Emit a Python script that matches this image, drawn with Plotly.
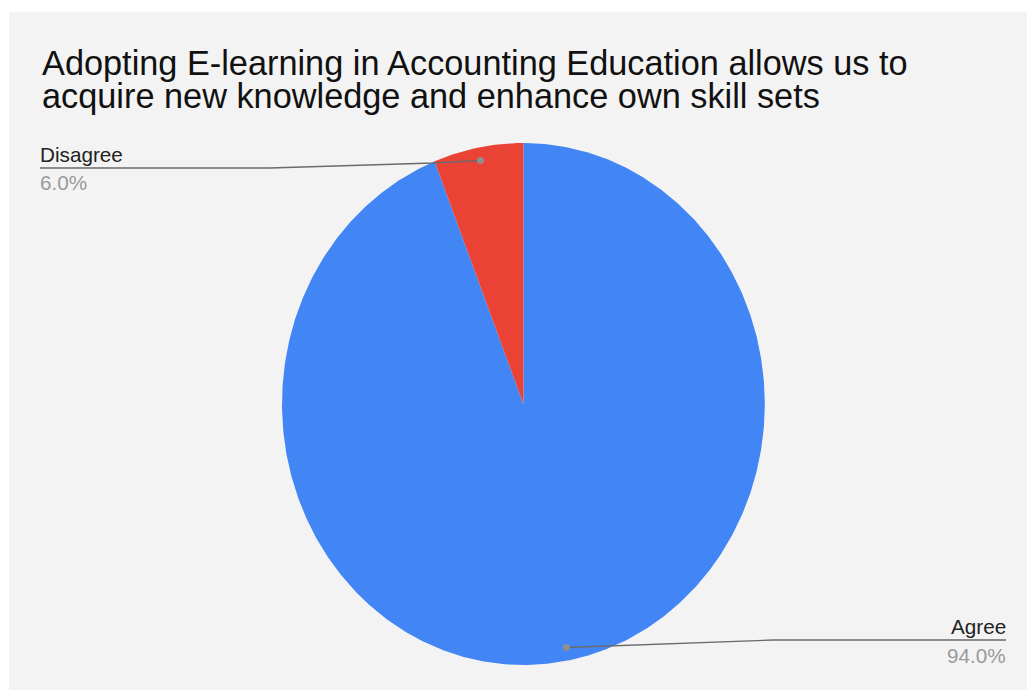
import numpy as np
import plotly.graph_objects as go

# Survey responses
labels = ["Agree", "Disagree"]
values = [94.0, 6.0]
colors = ["#4285f4", "#ea4335"]
title_lines = [
    "Adopting E-learning in Accounting Education allows us to",
    "acquire new knowledge and enhance own skill sets",
]

# Canvas geometry (pixels)
W, H = 1029, 691
CX, CY = 523.4, 404.0      # pie centre
RX, RY = 241.4, 261.0      # pie radii
FONT = "Liberation Sans, Arial, sans-serif"


def to_x(px):
    return (px - CX) / RX


def to_y(py):
    return (CY - py) / RY


def paper_x(px):
    return px / W


def paper_y(py):
    return 1 - py / H


fig = go.Figure()

# Slices drawn clockwise from 12 o'clock
total = sum(values)
fractions = np.array(values) / total
starts = np.concatenate([[0.0], np.cumsum(fractions)[:-1]])
mids = []
for lab, frac, start, col in zip(labels, fractions, starts, colors):
    n = max(int(frac * 720), 8)
    theta = 2 * np.pi * np.linspace(start, start + frac, n)
    xs = np.concatenate([[0.0], np.sin(theta), [0.0]])
    ys = np.concatenate([[0.0], np.cos(theta), [0.0]])
    fig.add_trace(go.Scatter(
        x=xs, y=ys, mode="lines", fill="toself", fillcolor=col,
        line=dict(width=0, color=col), name=lab, hoverinfo="text",
        text=f"{lab}: {frac * 100:.1f}%", showlegend=False,
    ))
    mids.append(2 * np.pi * (start + frac / 2))

# Leader lines: from a dot inside the slice to the label underline
leader_paths = {
    "Disagree": [(433, 163), (270, 168), (40, 168)],
    "Agree": [(773, 640), (1006, 640)],
}
for lab, mid in zip(labels, mids):
    dx, dy = 0.95 * np.sin(mid), 0.95 * np.cos(mid)
    pts = leader_paths[lab]
    fig.add_trace(go.Scatter(
        x=[dx] + [to_x(p[0]) for p in pts],
        y=[dy] + [to_y(p[1]) for p in pts],
        mode="lines", line=dict(color="#6a6a6a", width=1.4),
        hoverinfo="skip", showlegend=False, cliponaxis=False,
    ))
    fig.add_trace(go.Scatter(
        x=[dx], y=[dy], mode="markers",
        marker=dict(size=7, color="#8f8f8f"),
        hoverinfo="skip", showlegend=False, cliponaxis=False,
    ))

annotations = []
# Title, two lines set tightly
for line, base in zip(title_lines, [84, 117]):
    annotations.append(dict(
        x=paper_x(40), y=paper_y(base), xref="paper", yref="paper",
        xanchor="left", yanchor="bottom", showarrow=False, text=line,
        font=dict(family=FONT, size=34.3, color="#111111"),
    ))

# Slice labels
label_pos = {
    "Disagree": dict(x=38, line=167.5, anchor="left"),
    "Agree": dict(x=1007.5, line=639.5, anchor="right"),
}
for lab, frac in zip(labels, fractions):
    p = label_pos[lab]
    annotations.append(dict(
        x=paper_x(p["x"]), y=paper_y(p["line"]), xref="paper", yref="paper",
        xanchor=p["anchor"], yanchor="bottom", showarrow=False, text=lab,
        font=dict(family=FONT, size=20.7, color="#222222"),
    ))
    annotations.append(dict(
        x=paper_x(p["x"]), y=paper_y(p["line"] + 2), xref="paper", yref="paper",
        xanchor=p["anchor"], yanchor="top", showarrow=False,
        text=f"{frac * 100:.1f}%",
        font=dict(family=FONT, size=20.7, color="#9a9a9a"),
    ))

fig.update_layout(
    width=W, height=H,
    margin=dict(l=0, r=0, t=0, b=0),
    paper_bgcolor="#ffffff",
    plot_bgcolor="rgba(0,0,0,0)",
    xaxis=dict(range=[to_x(0), to_x(W)], visible=False, fixedrange=True),
    yaxis=dict(range=[to_y(H), to_y(0)], visible=False, fixedrange=True),
    shapes=[dict(
        type="rect", xref="paper", yref="paper", layer="below",
        x0=paper_x(9), x1=paper_x(1027), y0=paper_y(690), y1=paper_y(12),
        fillcolor="#f3f3f3", line=dict(width=0),
    )],
    annotations=annotations,
    showlegend=False,
)

fig.write_html("out.html")
